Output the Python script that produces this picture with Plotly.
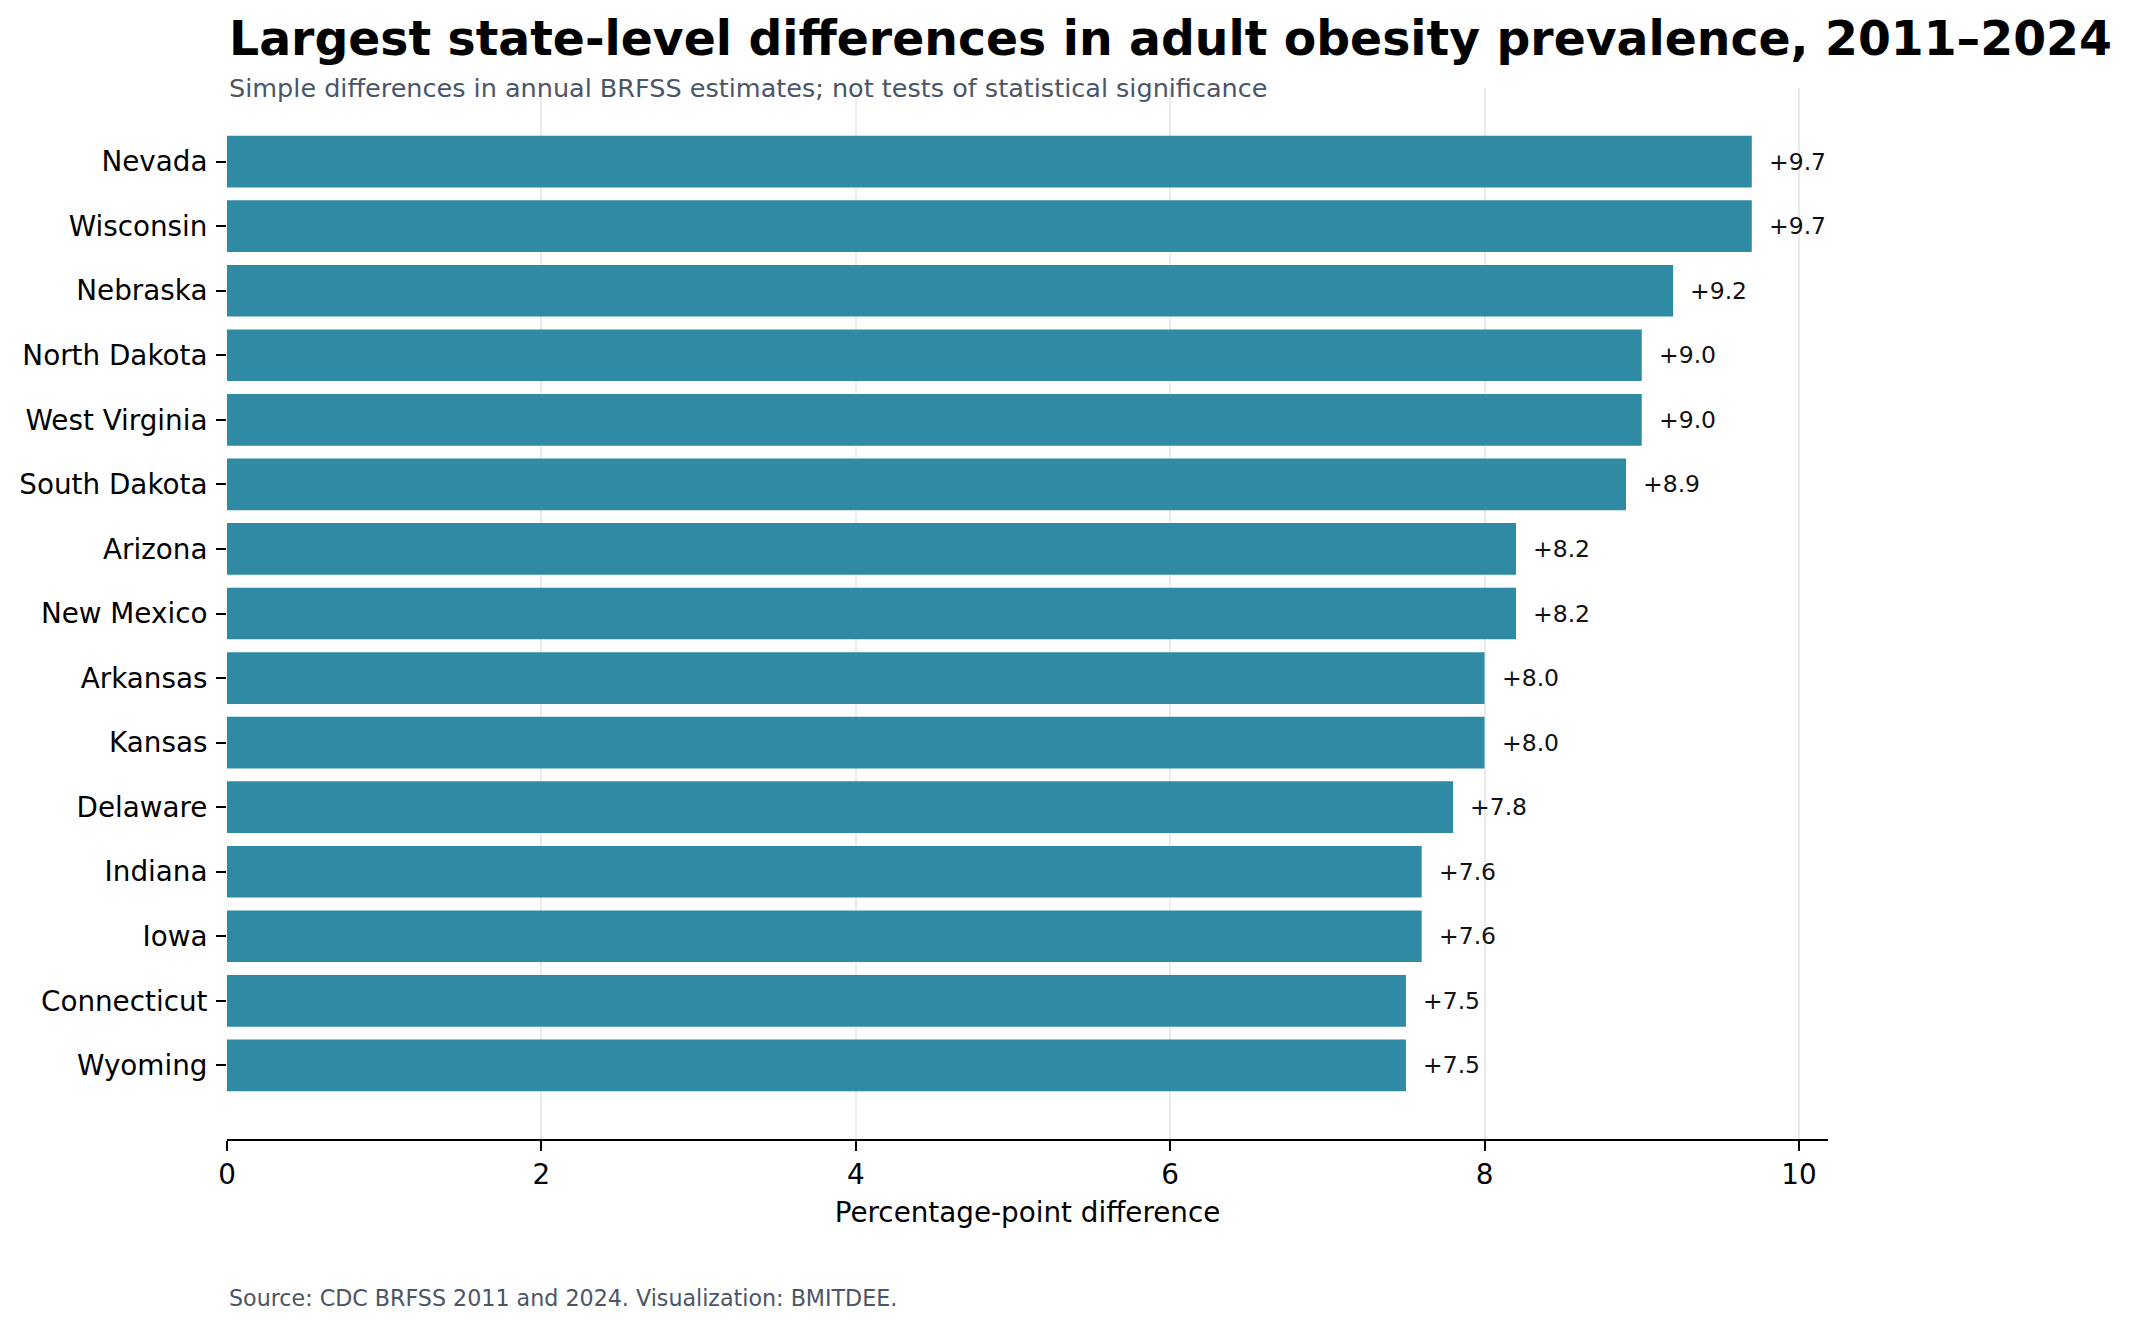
import plotly.graph_objects as go

states = ["Nevada", "Wisconsin", "Nebraska", "North Dakota", "West Virginia",
          "South Dakota", "Arizona", "New Mexico", "Arkansas", "Kansas",
          "Delaware", "Indiana", "Iowa", "Connecticut", "Wyoming"]
diffs = [9.7, 9.7, 9.2, 9.0, 9.0, 8.9, 8.2, 8.2, 8.0, 8.0, 7.8, 7.6, 7.6, 7.5, 7.5]
x_ticks = [0, 2, 4, 6, 8, 10]

title_text = "Largest state-level differences in adult obesity prevalence, 2011\u20132024"
subtitle_text = "Simple differences in annual BRFSS estimates; not tests of statistical significance"
source_text = "Source: CDC BRFSS 2011 and 2024. Visualization: BMITDEE."
x_title = "Percentage-point difference"

BAR = "#2F8AA3"
SLATE = "#4A5568"
FONT = "DejaVu Sans"

W, H = 2132, 1329
L, R, T, B = 227, 304, 88, 190
plot_h = H - T - B

def py(px):
    return (H - B - px) / plot_h

fig = go.Figure()
fig.add_trace(go.Bar(
    x=diffs, y=states, orientation="h",
    marker=dict(color=BAR, line=dict(width=0)),
    width=0.8, hoverinfo="x+y",
))

annotations = []
for s, v in zip(states, diffs):
    annotations.append(dict(
        x=v, y=s, xref="x", yref="y", text=f"+{v:.1f}",
        showarrow=False, xanchor="left", yanchor="middle", xshift=15,
        font=dict(family=FONT, size=23.5, color="#111111"),
    ))

annotations.append(dict(
    x=0, y=py(38), xref="paper", yref="paper", text=f"<b>{title_text}</b>",
    showarrow=False, xanchor="left", yanchor="middle",
    font=dict(family=FONT, size=47.3, color="#000000"),
))
annotations.append(dict(
    x=0, y=py(88), xref="paper", yref="paper", text=subtitle_text,
    showarrow=False, xanchor="left", yanchor="middle",
    font=dict(family=FONT, size=25.5, color=SLATE),
))
annotations.append(dict(
    x=0, y=py(1298), xref="paper", yref="paper", text=source_text,
    showarrow=False, xanchor="left", yanchor="middle",
    font=dict(family=FONT, size=22.2, color=SLATE),
))

fig.update_layout(
    width=W, height=H,
    margin=dict(l=L, r=R, t=T, b=B, pad=0),
    paper_bgcolor="white", plot_bgcolor="white",
    showlegend=False,
    bargap=0.2,
    font=dict(family=FONT, color="#000000"),
    annotations=annotations,
    xaxis=dict(
        range=[0, 10.185],
        tickmode="array", tickvals=x_ticks, ticktext=[str(t) for t in x_ticks],
        showgrid=True, gridcolor="#EBEBEB", gridwidth=1.5,
        zeroline=False,
        showline=True, linecolor="#000000", linewidth=2,
        ticks="outside", ticklen=10, tickwidth=2, tickcolor="#000000",
        tickfont=dict(family=FONT, size=27.8, color="#000000"),
        title=dict(text=x_title, font=dict(family=FONT, size=27.8, color="#000000"), standoff=12),
    ),
    yaxis=dict(
        type="category",
        categoryorder="array", categoryarray=states,
        range=[15.14, -1.14],
        showgrid=False, zeroline=False, showline=False,
        ticks="outside", ticklen=10, tickwidth=2, tickcolor="#000000",
        tickfont=dict(family=FONT, size=27.8, color="#000000"),
        ticklabelstandoff=3,
    ),
)

fig.write_html("out.html")
